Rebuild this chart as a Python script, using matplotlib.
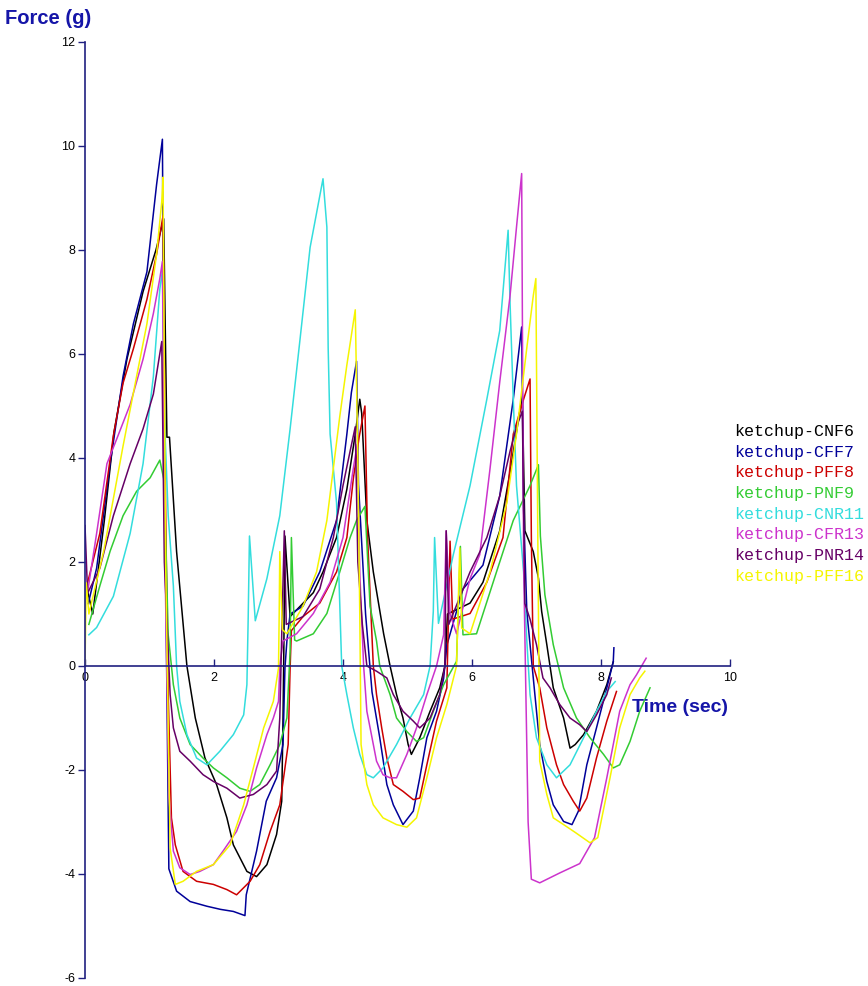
import matplotlib
matplotlib.use("Agg")
import matplotlib.pyplot as plt

plt.rcParams['font.family'] = ['Liberation Sans', 'DejaVu Sans']
plt.rcParams['axes.unicode_minus'] = False

# force traces, three squeeze cycles each
names = ["ketchup-CNF6", "ketchup-CFF7", "ketchup-PFF8", "ketchup-PNF9",
         "ketchup-CNR11", "ketchup-CFR13", "ketchup-PNR14", "ketchup-PFF16"]
colors = ["#000000", "#000099", "#cc0000", "#33cc33",
          "#33dddd", "#cc33cc", "#660066", "#f5f500"]

t_cnf6 = [0.03, 0.12, 0.3, 0.45, 0.65, 0.9, 1.1, 1.22, 1.25, 1.27, 1.31, 1.42, 1.58, 1.71, 1.86, 2.04,
          2.2, 2.3, 2.51, 2.66, 2.82, 2.97, 3.05, 3.07, 3.08, 3.1, 3.18, 3.54, 3.69, 3.9, 4.06, 4.19,
          4.26, 4.29, 4.37, 4.47, 4.63, 4.73, 4.83, 4.93, 5.01, 5.06, 5.19, 5.35, 5.5, 5.58, 5.62, 5.97,
          6.17, 6.43, 6.6, 6.78, 6.82, 6.95, 7.03, 7.08, 7.16, 7.26, 7.42, 7.52, 7.6, 7.73, 7.93, 8.09, 8.19]
f_cnf6 = [1.5, 1.0, 2.8, 4.5, 5.9, 7.2, 8.0, 8.6, 6.0, 4.4, 4.4, 2.2, 0.0, -1.0, -1.77, -2.28,
          -2.92, -3.44, -3.95, -4.05, -3.82, -3.24, -2.6, -1.0, 0.0, 2.5, 0.95, 1.41, 1.81, 2.47, 3.4, 4.46,
          5.13, 4.86, 2.8, 1.81, 0.62, 0.0, -0.55, -1.0, -1.51, -1.7, -1.38, -0.87, -0.42, 0.0, 1.0, 1.21,
          1.61, 2.6, 3.8, 5.2, 2.6, 2.2, 1.69, 1.05, 0.41, -0.42, -1.0, -1.58, -1.51, -1.32, -0.87, -0.36, 0.08]

t_cff7 = [0.05, 0.18, 0.39, 0.59, 0.75, 0.96, 1.11, 1.2, 1.23, 1.3, 1.42, 1.63, 1.89, 2.1, 2.3, 2.48,
          2.5, 2.66, 2.81, 2.97, 3.07, 3.1, 3.13, 3.18, 3.38, 3.64, 3.9, 4.06, 4.13, 4.21, 4.24, 4.35,
          4.45, 4.57, 4.68, 4.78, 4.93, 5.09, 5.19, 5.3, 5.45, 5.56, 5.61, 5.86, 6.17, 6.43, 6.64, 6.77,
          6.8, 6.85, 6.95, 7.05, 7.16, 7.26, 7.42, 7.55, 7.65, 7.78, 7.93, 8.09, 8.19, 8.2]
f_cff7 = [1.2, 1.88, 3.89, 5.57, 6.58, 7.58, 9.26, 10.13, 4.0, -3.9, -4.33, -4.53, -4.62, -4.68, -4.72, -4.8,
          -4.4, -3.56, -2.6, -2.15, -1.51, -0.04, 0.48, 1.0, 1.15, 1.81, 2.8, 4.46, 5.26, 5.86, 3.5, 1.0,
          -0.5, -1.38, -2.28, -2.67, -3.05, -2.79, -2.15, -1.38, -0.87, -0.24, 0.4, 1.48, 1.94, 3.27, 5.13, 6.52,
          3.0, 1.05, -0.23, -1.51, -2.22, -2.67, -2.99, -3.05, -2.79, -1.9, -1.19, -0.42, 0.08, 0.35]

t_pff8 = [0.04, 0.23, 0.44, 0.59, 0.75, 0.96, 1.11, 1.21, 1.25, 1.29, 1.34, 1.4, 1.52, 1.73, 1.99, 2.2,
          2.35, 2.56, 2.71, 2.87, 3.02, 3.1, 3.15, 3.18, 3.2, 3.38, 3.64, 3.9, 4.06, 4.16, 4.25, 4.34,
          4.38, 4.47, 4.52, 4.6, 4.68, 4.78, 4.93, 5.09, 5.19, 5.3, 5.45, 5.61, 5.66, 5.7, 5.97, 6.23,
          6.48, 6.64, 6.8, 6.9, 6.92, 6.95, 7.05, 7.16, 7.31, 7.42, 7.57, 7.67, 7.78, 7.93, 8.09, 8.24]
f_pff8 = [1.6, 2.55, 4.43, 5.44, 6.1, 7.05, 7.92, 8.66, 3.0, -0.55, -2.92, -3.44, -3.95, -4.14, -4.2, -4.3,
          -4.4, -4.14, -3.82, -3.18, -2.67, -1.96, -1.51, -0.04, 0.68, 0.95, 1.21, 1.81, 2.47, 3.6, 4.4, 5.0,
          2.5, 0.0, -0.55, -1.19, -1.77, -2.28, -2.41, -2.57, -2.54, -1.9, -1.06, -0.42, 2.4, 0.9, 1.01, 1.61,
          2.47, 4.46, 5.13, 5.52, 2.5, 0.0, -0.42, -1.19, -1.9, -2.28, -2.6, -2.79, -2.54, -1.77, -1.06, -0.49]

t_pnf9 = [0.06, 0.23, 0.39, 0.59, 0.8, 1.01, 1.16, 1.22, 1.25, 1.29, 1.37, 1.47, 1.63, 1.83, 1.99, 2.2,
          2.4, 2.56, 2.71, 2.87, 3.02, 3.13, 3.18, 3.2, 3.25, 3.28, 3.54, 3.75, 3.95, 4.11, 4.21, 4.34,
          4.42, 4.52, 4.57, 4.73, 4.83, 4.99, 5.14, 5.25, 5.4, 5.56, 5.76, 5.82, 5.86, 6.07, 6.38, 6.64,
          6.9, 7.03, 7.06, 7.13, 7.26, 7.42, 7.62, 7.83, 8.04, 8.19, 8.29, 8.45, 8.6, 8.76]
f_pnf9 = [0.8, 1.54, 2.21, 2.89, 3.36, 3.62, 3.96, 3.6, 2.5, 0.6, -0.36, -1.0, -1.51, -1.77, -1.96, -2.15,
          -2.35, -2.41, -2.28, -1.9, -1.51, -1.0, 0.28, 2.47, 0.5, 0.48, 0.62, 1.01, 1.81, 2.47, 2.8, 3.07,
          1.15, 0.48, 0.0, -0.55, -1.0, -1.26, -1.45, -1.38, -0.87, -0.36, 0.09, 2.3, 0.6, 0.62, 1.81, 2.8,
          3.47, 3.87, 2.5, 1.37, 0.41, -0.42, -1.0, -1.38, -1.7, -1.96, -1.9, -1.45, -0.87, -0.42]

t_cnr11 = [0.06, 0.18, 0.44, 0.7, 0.9, 1.06, 1.16, 1.2, 1.24, 1.29, 1.37, 1.42, 1.47, 1.58, 1.73, 1.89,
           2.09, 2.3, 2.46, 2.51, 2.53, 2.55, 2.64, 2.82, 3.02, 3.18, 3.33, 3.49, 3.69, 3.75, 3.77, 3.8,
           3.9, 3.98, 4.06, 4.16, 4.26, 4.37, 4.47, 4.62, 4.83, 5.04, 5.25, 5.35, 5.4, 5.42, 5.48, 5.71,
           5.97, 6.23, 6.43, 6.56, 6.59, 6.64, 6.69, 6.8, 6.85, 6.9, 7.0, 7.16, 7.31, 7.52, 7.73, 7.93,
           8.09, 8.22]
f_cnr11 = [0.6, 0.74, 1.34, 2.55, 3.89, 5.57, 7.25, 7.6, 4.5, 2.89, 1.54, 0.0, -0.68, -1.32, -1.77, -1.9,
           -1.64, -1.32, -0.94, -0.36, 0.92, 2.5, 0.87, 1.68, 2.89, 4.56, 6.24, 8.05, 9.37, 8.44, 6.12, 4.46,
           3.14, 0.0, -0.55, -1.19, -1.7, -2.09, -2.15, -1.96, -1.51, -1.0, -0.55, 0.0, 1.05, 2.47, 0.82, 2.14,
           3.47, 5.13, 6.45, 8.38, 6.98, 5.13, 3.47, 1.81, 0.48, -0.55, -1.38, -1.9, -2.15, -1.9, -1.38, -0.87,
           -0.49, -0.3]

t_cfr13 = [0.03, 0.18, 0.34, 0.49, 0.7, 0.9, 1.06, 1.16, 1.2, 1.24, 1.3, 1.37, 1.47, 1.63, 1.78, 1.99,
           2.14, 2.35, 2.51, 2.66, 2.82, 2.92, 3.0, 3.02, 3.07, 3.28, 3.54, 3.8, 4.0, 4.16, 4.22, 4.26,
           4.32, 4.37, 4.45, 4.52, 4.62, 4.73, 4.83, 4.99, 5.14, 5.3, 5.45, 5.56, 5.6, 5.66, 5.76, 5.97,
           6.12, 6.28, 6.43, 6.59, 6.69, 6.77, 6.8, 6.87, 6.92, 7.05, 7.36, 7.67, 7.9, 8.09, 8.19, 8.29,
           8.45, 8.55, 8.7]
f_cfr13 = [1.34, 2.55, 3.89, 4.36, 5.03, 5.9, 6.78, 7.45, 7.78, 2.0, -2.5, -3.56, -3.88, -4.01, -3.95, -3.82,
           -3.56, -3.18, -2.67, -1.96, -1.32, -1.0, -0.68, 0.0, 0.48, 0.62, 1.01, 1.61, 2.47, 3.8, 4.26, 1.81,
           0.0, -0.87, -1.38, -1.83, -2.09, -2.15, -2.15, -1.7, -1.19, -0.55, 0.0, 0.6, 2.6, 1.0, 0.62, 1.68,
           2.14, 3.8, 5.46, 7.12, 8.44, 9.47, 2.0, -3.0, -4.1, -4.17, -3.98, -3.8, -3.3, -2.15, -1.51, -0.87,
           -0.36, -0.17, 0.15]

t_pnr14 = [0.0, 0.04, 0.23, 0.44, 0.7, 0.9, 1.06, 1.19, 1.23, 1.32, 1.37, 1.47, 1.63, 1.83, 1.99, 2.2,
           2.4, 2.61, 2.82, 2.97, 3.02, 3.05, 3.09, 3.12, 3.38, 3.64, 3.85, 4.0, 4.11, 4.19, 4.23, 4.3,
           4.37, 4.52, 4.68, 4.78, 4.93, 5.09, 5.19, 5.35, 5.5, 5.58, 5.6, 5.64, 5.97, 6.23, 6.43, 6.59,
           6.69, 6.78, 6.82, 6.9, 7.0, 7.1, 7.21, 7.36, 7.52, 7.67, 7.78, 7.93, 8.09, 8.16]
f_pnr14 = [2.7, 1.4, 1.88, 2.89, 3.89, 4.56, 5.23, 6.24, 2.0, -0.55, -1.19, -1.64, -1.83, -2.09, -2.22, -2.35,
           -2.54, -2.47, -2.28, -2.02, -1.0, 0.6, 2.6, 0.8, 0.95, 1.48, 2.47, 3.47, 4.13, 4.6, 2.0, 0.8,
           0.0, -0.1, -0.23, -0.55, -0.87, -1.06, -1.19, -1.0, -0.55, 0.0, 2.6, 0.8, 1.81, 2.47, 3.27, 4.13,
           4.6, 4.9, 1.2, 0.9, 0.41, -0.23, -0.42, -0.74, -1.0, -1.13, -1.26, -0.94, -0.55, -0.23]

t_pff16 = [0.0, 0.02, 0.06, 0.29, 0.44, 0.59, 0.8, 0.96, 1.11, 1.19, 1.21, 1.25, 1.32, 1.4, 1.52, 1.73,
           1.99, 2.25, 2.46, 2.61, 2.77, 2.92, 3.0, 3.01, 3.02, 3.06, 3.13, 3.38, 3.59, 3.75, 3.85, 3.95,
           4.06, 4.19, 4.23, 4.26, 4.28, 4.37, 4.47, 4.62, 4.83, 4.99, 5.14, 5.3, 5.45, 5.61, 5.76, 5.81,
           5.84, 5.97, 6.28, 6.54, 6.69, 6.85, 6.95, 6.99, 7.02, 7.05, 7.16, 7.26, 7.42, 7.6, 7.83, 7.95,
           8.14, 8.29, 8.45, 8.6, 8.68]
f_pff16 = [0.0, 1.6, 1.0, 2.21, 3.22, 4.23, 5.57, 6.58, 7.92, 8.93, 9.4, 2.0, -3.5, -4.2, -4.14, -3.95,
           -3.82, -3.44, -2.67, -1.96, -1.19, -0.68, -0.04, 0.92, 2.2, 0.7, 0.62, 1.15, 1.81, 2.8, 3.8, 4.8,
           5.79, 6.85, 4.0, 1.0, -1.51, -2.28, -2.67, -2.92, -3.05, -3.1, -2.92, -2.15, -1.38, -0.74, 0.0, 2.27,
           0.73, 0.62, 1.81, 3.14, 4.46, 6.12, 7.12, 7.45, 2.5, -1.83, -2.47, -2.92, -3.05, -3.2, -3.4, -3.3,
           -2.15, -1.19, -0.55, -0.23, -0.1]

times = [t_cnf6, t_cff7, t_pff8, t_pnf9, t_cnr11, t_cfr13, t_pnr14, t_pff16]
forces = [f_cnf6, f_cff7, f_pff8, f_pnf9, f_cnr11, f_cfr13, f_pnr14, f_pff16]

axis_col = "#202080"
label_col = "#1515a8"

fig = plt.figure(figsize=(8.68, 9.86), dpi=100)
ax = fig.add_axes([85 / 868, 1 - 978 / 986, 645 / 868, 936 / 986])

lines = []
for t, f, c, n in zip(times, forces, colors, names):
    ln, = ax.plot(t, f, color=c, lw=1.1, label=n)
    lines.append(ln)

ax.set_xlim(0, 10)
ax.set_ylim(-6, 12)
ax.set_xticks(range(0, 11, 2))
ax.set_yticks(range(-6, 13, 2))

ax.spines['top'].set_visible(False)
ax.spines['right'].set_visible(False)
ax.spines['bottom'].set_position(('data', 0))
ax.spines['left'].set_color(axis_col)
ax.spines['bottom'].set_color(axis_col)
ax.spines['left'].set_linewidth(1.2)
ax.spines['bottom'].set_linewidth(1.2)

ax.tick_params(axis='x', direction='in', length=5, width=1.0, color=axis_col,
               labelsize=9, pad=4)
ax.tick_params(axis='y', direction='out', length=5, width=1.0, color=axis_col,
               labelsize=9, pad=2)

fig.text(5 / 868, 1 - 19 / 986, "Force (g)", color=label_col, fontsize=14.5,
         fontweight='bold', ha='left', va='center')
fig.text(728 / 868, 1 - 708 / 986, "Time (sec)", color=label_col, fontsize=14,
         fontweight='bold', ha='right', va='center')

leg = ax.legend(handles=lines, loc='upper left', bbox_to_anchor=(734 / 868, 1 - 424 / 986),
                bbox_transform=fig.transFigure, frameon=False, handlelength=0,
                handletextpad=0, borderpad=0, borderaxespad=0, labelspacing=0.34,
                labelcolor='linecolor', prop={'family': 'Liberation Mono', 'size': 12})

fig.savefig("out.png", dpi=100)
